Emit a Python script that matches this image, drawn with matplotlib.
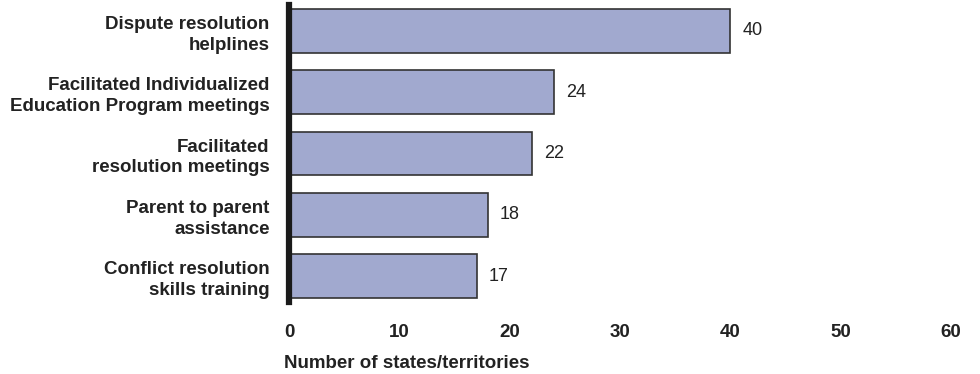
import matplotlib.pyplot as plt

categories = [
    "Dispute resolution\nhelplines",
    "Facilitated Individualized\nEducation Program meetings",
    "Facilitated\nresolution meetings",
    "Parent to parent\nassistance",
    "Conflict resolution\nskills training",
]
values = [40, 24, 22, 18, 17]
ticks = [0, 10, 20, 30, 40, 50, 60]

plt.rcParams["font.family"] = ["Liberation Sans", "DejaVu Sans"]

fig = plt.figure(figsize=(9.8, 3.74), dpi=100)
ax = fig.add_axes([0.2949, 0.1925, 0.6755, 0.794])

ypos = range(len(categories))
ax.barh(ypos, values, height=0.71, color="#a1a9cf", edgecolor="#333333", linewidth=1.2)

for y, v in zip(ypos, values):
    ax.text(v + 1.1, y, str(v), va="center", ha="left", fontsize=13, color="#222222")

ax.set_xlim(0, 60)
ax.set_ylim(4.42, -0.42)
ax.set_xticks(ticks)
ax.set_xticklabels([str(t) for t in ticks], fontsize=13.5, fontweight="bold", color="#222222")
ax.set_yticks(list(ypos))
ax.set_yticklabels(categories, fontsize=13.5, fontweight="bold", color="#222222",
                   ha="right", multialignment="right", linespacing=1.3)
ax.tick_params(axis="x", length=0, pad=16)
ax.tick_params(axis="y", length=0, pad=14)

for s in ["top", "right", "bottom"]:
    ax.spines[s].set_visible(False)
ax.spines["left"].set_linewidth(4.5)
ax.spines["left"].set_color("#1a1a1a")

ax.set_xlabel("Number of states/territories", fontsize=13.5, fontweight="bold", color="#222222")
ax.xaxis.set_label_coords(-0.007, -0.178)
ax.xaxis.label.set_ha("left")

fig.savefig("out.png", dpi=100, facecolor="white")
